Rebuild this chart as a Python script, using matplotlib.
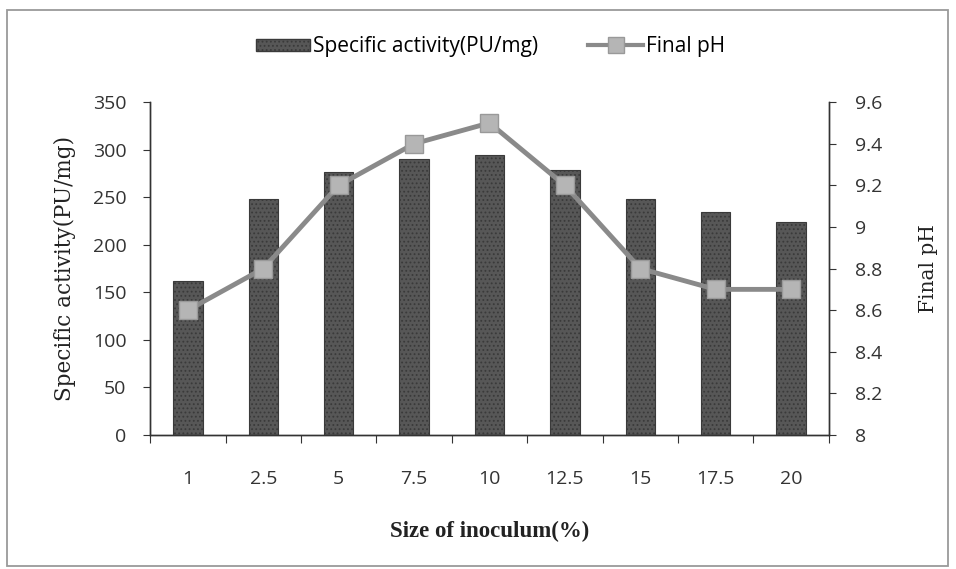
import numpy as np
import matplotlib.pyplot as plt
from matplotlib.patches import Rectangle
from matplotlib.lines import Line2D

# ── data ──────────────────────────────────────────────────────────────────────
inoculum = ["1", "2.5", "5", "7.5", "10", "12.5", "15", "17.5", "20"]
activity = [162, 248, 277, 290, 294, 279, 248, 234, 224]
final_ph = [8.6, 8.8, 9.2, 9.4, 9.5, 9.2, 8.8, 8.7, 8.7]

SERIF = ["DejaVu Serif"]
SANS = ["Open Sans", "DejaVu Sans"]
BAR_FACE = "#575757"
BAR_EDGE = "#3a3a3a"
LINE_COL = "#8a8a8a"

plt.rcParams["hatch.color"] = "#767676"
plt.rcParams["hatch.linewidth"] = 0.8

fig = plt.figure(figsize=(9.56, 5.69), dpi=100)
ax = fig.add_axes([0.157, 0.2355, 0.710, 0.585])
ax2 = ax.twinx()

x = np.arange(len(inoculum))
ax.bar(x, activity, width=0.39, color=BAR_FACE, edgecolor=BAR_EDGE,
       linewidth=0.8, hatch="....", zorder=2)

ax2.plot(x, final_ph, color=LINE_COL, lw=3.5, marker="s", markersize=13,
         markerfacecolor="#b5b5b5", markeredgecolor="#999999", zorder=3)

# axes ranges
ax.set_xlim(-0.5, len(inoculum) - 0.5)
ax.set_ylim(0, 350)
ax.set_yticks(np.arange(0, 351, 50))
ax2.set_ylim(8, 9.6)
ax2.set_yticks(np.round(np.arange(8, 9.61, 0.2), 1))
ax2.set_yticklabels(["8", "8.2", "8.4", "8.6", "8.8", "9", "9.2", "9.4", "9.6"])

# x ticks: marks at category boundaries, labels at centres
ax.set_xticks(np.arange(-0.5, len(inoculum), 1.0))
ax.set_xticklabels([])
ax.set_xticks(x, minor=True)
ax.set_xticklabels(inoculum, minor=True)
ax.tick_params(axis="x", which="major", length=6, direction="out", color="#333")
ax.tick_params(axis="x", which="minor", length=0, pad=25)
ax.tick_params(axis="y", length=5, direction="out", color="#333", pad=12)
ax2.tick_params(axis="y", length=5, direction="out", color="#333", pad=14)

for a in (ax, ax2):
    a.spines["top"].set_visible(False)
    for s in ("left", "right", "bottom"):
        a.spines[s].set_color("#333")
        a.spines[s].set_linewidth(1.0)
    for lab in a.get_yticklabels() + a.get_xticklabels(minor=True):
        lab.set_family(SANS)
        lab.set_fontsize(14)
        lab.set_color("#333")

ax.set_ylabel("Specific activity(PU/mg)", family=SERIF, fontsize=15.5,
              color="#222", labelpad=12)
ax2.set_ylabel("Final pH", family=SERIF, fontsize=14.5, color="#222", labelpad=26)
ax.set_xlabel("Size of inoculum(%)", family=["Liberation Serif"], fontsize=16.5,
              fontweight="bold", color="#222", labelpad=24)

# legend
handles = [
    Rectangle((0, 0), 1, 1, facecolor=BAR_FACE, edgecolor=BAR_EDGE, hatch="...."),
    Line2D([0], [0], color=LINE_COL, lw=3, marker="s", markersize=11,
           markerfacecolor="#b5b5b5", markeredgecolor="#999999"),
]
fig.legend(handles, ["Specific activity(PU/mg)", "Final pH"], loc="center",
           bbox_to_anchor=(0.513, 0.918), ncol=2, frameon=False,
           prop={"family": SANS, "size": 15}, handlelength=2.6, handleheight=0.5,
           columnspacing=2.4, handletextpad=0.15)

# outer frame
fig.patches.append(Rectangle((7 / 956, 3 / 569), 941 / 956, 556 / 569,
                             transform=fig.transFigure, fill=False,
                             edgecolor="#9a9a9a", lw=1.3))

fig.savefig("out.png", dpi=100)
